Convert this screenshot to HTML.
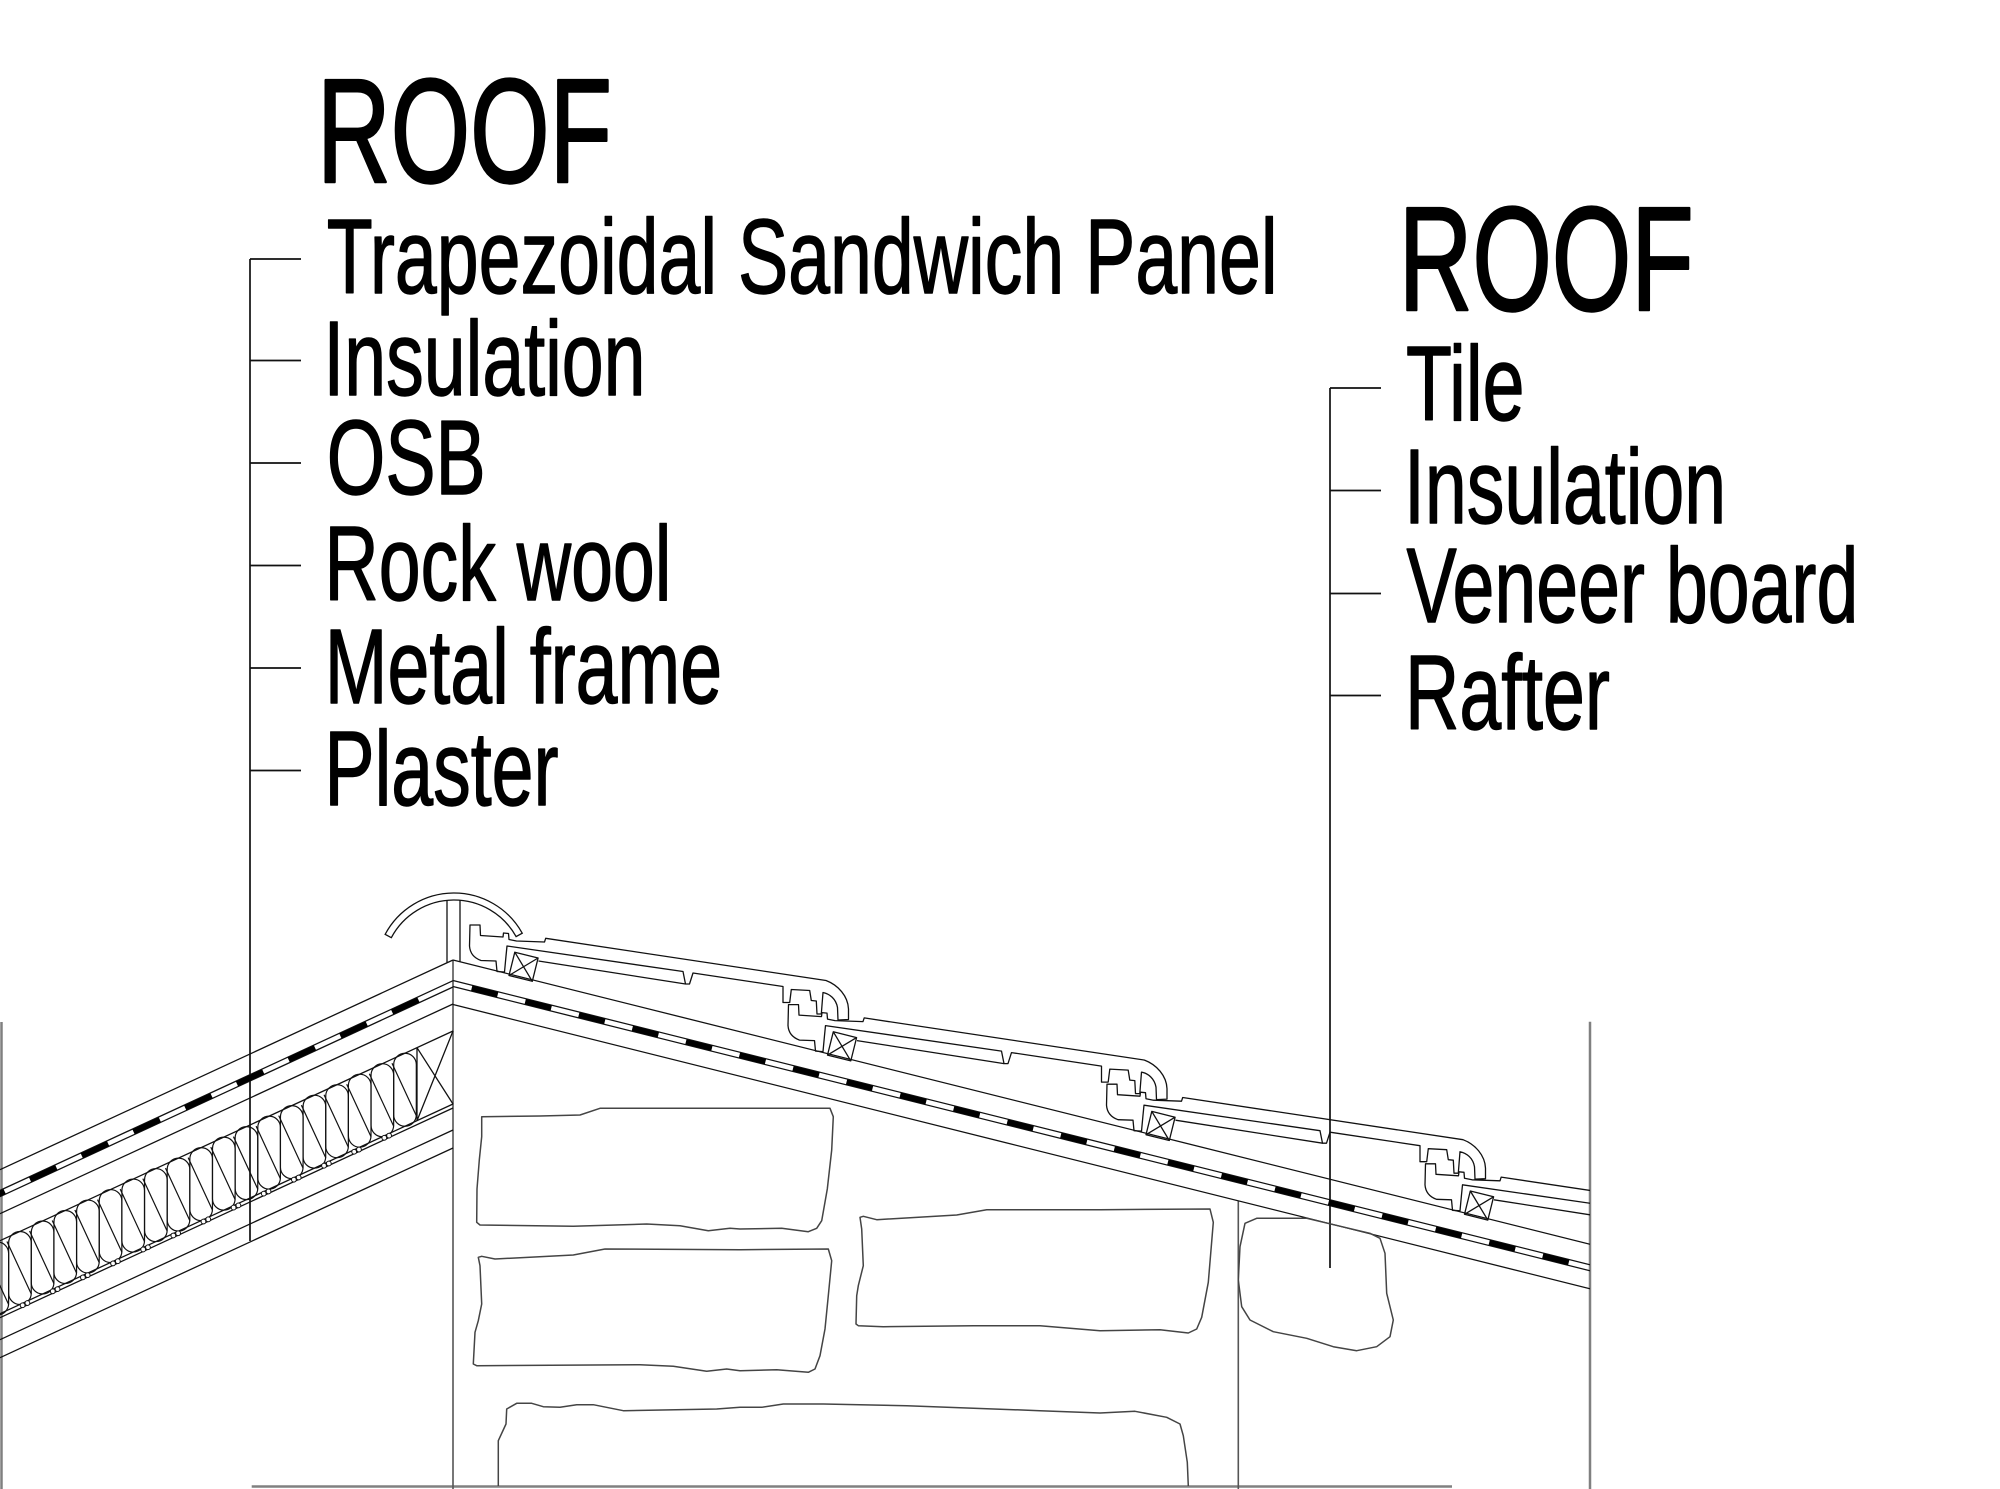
<!DOCTYPE html>
<html><head><meta charset="utf-8"><style>
html,body{margin:0;padding:0;background:#fff;}
svg{display:block;}
text{font-family:"Liberation Sans",Arial,sans-serif;fill:#000;stroke:#000;stroke-linejoin:round;}
.t{stroke-width:2.5;}
.i{stroke-width:1.4;}
</style></head><body>
<svg width="2000" height="1489" viewBox="0 0 2000 1489" xmlns="http://www.w3.org/2000/svg">
<defs>
<clipPath id="cl"><rect x="0" y="0" width="1590" height="1489"/></clipPath>
<g id="tile" fill="none" stroke="#111" stroke-width="1.3" stroke-linejoin="round">
<path d="M470,925 L480,925 L480.5,935.5 L503,937 L503.5,933 L508.5,933.5 L509,939.5 L516.5,941 L544.5,942 L545.7,938.3 L826,980.5 C838,985 848,996 848.5,1009 L848.5,1019.5 L838,1020 L837.5,1007.5 C836,999 830,994 823,992.5 L821.3,1014 L817,1014 L816.3,1001 L811.3,1000.5 L809.7,990.5 L791.3,989.5 L789.7,1002.5 L783,1002.5 L783,986.5 L693,973 L689.5,984 L685.5,984 L683,971.5 L507,946 L506,956 L504.5,972 L497,971.5 L496,961 L481,960.5 C474,958 470,953 469.5,946 Z"/>
<path d="M538.5,961 L685.5,984"/>
<polygon points="514.8,952.2 538.1,958 532.3,981.3 509,975.5"/>
<path d="M514.8,952.2 L532.3,981.3 M538.1,958 L509,975.5"/>
</g>
<g id="ins" fill="none" stroke="#111" stroke-width="1.2">
<rect x="393.7" y="1053.22" width="22.6" height="73" rx="11.3" ry="11.3"/>
<line x1="392" y1="1063.24" x2="416.4" y2="1115.9"/>
</g>
<g id="circ" fill="#fff" stroke="#111" stroke-width="1">
<circle cx="384.3" cy="1137.8" r="2.4"/>
<circle cx="389.1" cy="1135.6" r="2.4"/>
</g>
</defs>

<!-- Titles and labels -->
<text class="t" transform="translate(317,182) scale(0.69,1)" font-size="148">ROOF</text>
<text class="i" transform="translate(326.7,293) scale(0.71,1)" font-size="106">Trapezoidal Sandwich Panel</text>
<text class="i" transform="translate(323.4,395) scale(0.71,1)" font-size="106">Insulation</text>
<text class="i" transform="translate(326.8,494) scale(0.71,1)" font-size="106">OSB</text>
<text class="i" transform="translate(324.4,600) scale(0.71,1)" font-size="106">Rock wool</text>
<text class="i" transform="translate(324.8,703) scale(0.71,1)" font-size="106">Metal frame</text>
<text class="i" transform="translate(324.4,805) scale(0.71,1)" font-size="106">Plaster</text>

<text class="t" transform="translate(1398.7,310) scale(0.69,1)" font-size="148">ROOF</text>
<text class="i" transform="translate(1406,420) scale(0.71,1)" font-size="106">Tile</text>
<text class="i" transform="translate(1404,523) scale(0.71,1)" font-size="106">Insulation</text>
<text class="i" transform="translate(1406.5,622) scale(0.71,1)" font-size="106">Veneer board</text>
<text class="i" transform="translate(1405,729) scale(0.71,1)" font-size="106">Rafter</text>

<!-- Leaders -->
<path d="M250,259 V1241 M250,259 H301 M250,360.5 H301 M250,463 H301 M250,565.5 H301 M250,668 H301 M250,770.5 H301" stroke="#111" stroke-width="1.7" fill="none"/>
<path d="M1330,388 V1268 M1330,388 H1381 M1330,490.5 H1381 M1330,593.5 H1381 M1330,695.5 H1381" stroke="#111" stroke-width="1.7" fill="none"/>

<!-- Borders / ground -->
<g stroke="#808080" stroke-width="2.5" fill="none">
<path d="M1.5,1022 V1489"/>
<path d="M1590,1021.7 V1489"/>
<path d="M251.7,1486.5 H1452"/>
</g>
<g stroke="#555" stroke-width="1.6" fill="none">
<path d="M453,960 V1489"/>
<path d="M1238.3,1200.8 V1489"/>
</g>

<!-- Left roof layers -->
<g stroke="#111" stroke-width="1.3" fill="none">
<path d="M0,1169.7 L453,960"/>
<path d="M0,1190.4 L453,980.7"/>
<path d="M0,1196.7 L453,987"/>
<path d="M0,1213.7 L453,1004"/>
<path d="M0,1240.7 L453,1031"/>
<path d="M0,1313.7 L453,1104"/>
<path d="M0,1317.7 L453,1108"/>
<path d="M0,1339.7 L453,1130"/>
<path d="M0,1357.7 L453,1148"/>
<path d="M417,1047.7 V1120.7 M417,1047.7 L453,1104 M417,1120.7 L453,1031"/>
</g>
<path d="M-21.67,1203.62 L420,999.13" stroke="#000" stroke-width="5.5" stroke-dasharray="29 28" fill="none"/>

<!-- Insulation loops -->
<g>
<use href="#ins"/>
<use href="#ins" transform="translate(-22.65,10.487)"/>
<use href="#ins" transform="translate(-45.3,20.974)"/>
<use href="#ins" transform="translate(-67.95,31.461)"/>
<use href="#ins" transform="translate(-90.6,41.948)"/>
<use href="#ins" transform="translate(-113.25,52.435)"/>
<use href="#ins" transform="translate(-135.9,62.922)"/>
<use href="#ins" transform="translate(-158.55,73.409)"/>
<use href="#ins" transform="translate(-181.2,83.896)"/>
<use href="#ins" transform="translate(-203.85,94.383)"/>
<use href="#ins" transform="translate(-226.5,104.87)"/>
<use href="#ins" transform="translate(-249.15,115.357)"/>
<use href="#ins" transform="translate(-271.8,125.844)"/>
<use href="#ins" transform="translate(-294.45,136.331)"/>
<use href="#ins" transform="translate(-317.1,146.818)"/>
<use href="#ins" transform="translate(-339.75,157.305)"/>
<use href="#ins" transform="translate(-362.4,167.792)"/>
<use href="#ins" transform="translate(-385.05,178.279)"/>
<use href="#ins" transform="translate(-407.7,188.766)"/>
</g>
<g>
<use href="#circ"/>
<use href="#circ" transform="translate(-30.14,13.955)"/>
<use href="#circ" transform="translate(-60.28,27.91)"/>
<use href="#circ" transform="translate(-90.42,41.865)"/>
<use href="#circ" transform="translate(-120.56,55.82)"/>
<use href="#circ" transform="translate(-150.7,69.775)"/>
<use href="#circ" transform="translate(-180.84,83.73)"/>
<use href="#circ" transform="translate(-210.98,97.685)"/>
<use href="#circ" transform="translate(-241.12,111.64)"/>
<use href="#circ" transform="translate(-271.26,125.595)"/>
<use href="#circ" transform="translate(-301.4,139.55)"/>
<use href="#circ" transform="translate(-331.54,153.505)"/>
<use href="#circ" transform="translate(-361.68,167.46)"/>
</g>

<!-- Ridge cap -->
<g stroke="#111" stroke-width="1.3" fill="none">
<path d="M385.13,934.38 A78,78 0 0 1 522.22,933.19 L516.1,936.58 A71,71 0 0 0 391.31,937.67 Z"/>
<path d="M447,900.4 V962.8 M460,900.3 V961.75"/>
</g>

<!-- Right roof -->
<g clip-path="url(#cl)">
<g stroke="#111" stroke-width="1.3" fill="none">
<path d="M453,960 L1590,1244.25"/>
<path d="M453,980.5 L1590,1264.75"/>
<path d="M453,986.5 L1590,1270.75"/>
<path d="M453,1004.5 L1590,1288.75"/>
</g>
<path d="M471.7,988.18 L1590,1267.75" stroke="#000" stroke-width="5.5" stroke-dasharray="26.8 28.4" fill="none"/>
<use href="#tile"/>
<use href="#tile" transform="translate(318.5,79.6)"/>
<use href="#tile" transform="translate(637,159.2)"/>
<use href="#tile" transform="translate(955.5,238.8)"/>
</g>

<!-- Stones -->
<g stroke="#444" stroke-width="1.5" fill="none" stroke-linejoin="round">
<path d="M481.7,1116.7 L540,1116 L580,1115 L600,1108.3 L830,1108.3 L833.3,1116.7 L831.7,1150 L827.3,1189 L821.7,1220.7 L816.7,1228.3 L808.3,1231.7 L781.7,1228.3 L740,1229 L730,1228.3 L708.3,1230.7 L680,1225.7 L646.7,1224 L573.3,1226.3 L480,1225 L476.7,1222.3 L477,1189 L479.3,1160 L481.7,1136.7 Z"/>
<path d="M478.3,1257.3 L481.7,1256.3 L495,1259 L573.3,1255 L605,1249 L740,1249.7 L828.3,1249 L831.7,1260.7 L828.3,1295.7 L825,1329 L820,1355.7 L815,1369 L808.3,1372.3 L776.7,1369.7 L740,1370.7 L726.7,1369 L706.7,1371.3 L673.3,1366.3 L640,1364.7 L476.7,1365.7 L473.3,1364 L475,1332.3 L478.3,1320.7 L481.7,1304 L480,1265.7 Z"/>
<path d="M498.3,1486 L498.3,1440.7 L506,1424 L506.7,1409 L516.7,1403.3 L531.7,1403.3 L543.3,1406.7 L560,1407.3 L576.7,1404.7 L593.3,1404.7 L623.3,1410.7 L716.7,1409 L740,1407.3 L761.7,1407.3 L783.3,1404 L823.3,1404 L906.7,1405.7 L1040,1410.7 L1100,1413 L1135,1411.3 L1166.7,1417.3 L1180,1424 L1183.3,1435.7 L1187.3,1462.3 L1188.3,1486"/>
<path d="M860,1217.3 L863.3,1216.3 L876.7,1219.7 L956.7,1215 L986.7,1209.7 L1100,1209.7 L1210,1209 L1213.3,1222.3 L1208.3,1282.3 L1201.7,1317.3 L1196.7,1329 L1188.3,1333 L1160,1329.7 L1100,1330.7 L1040,1325.7 L973.3,1325.7 L883.3,1326.7 L858.3,1325.7 L856,1324 L856.7,1295.7 L858.3,1285.7 L863.3,1265.7 L861.7,1229 Z"/>
<path d="M1245,1223.3 L1256.7,1218.3 L1306.7,1218.3 L1370,1233.3 L1380,1238.3 L1385,1253.3 L1386.7,1293.3 L1393.3,1320 L1390,1336.7 L1376.7,1346.7 L1356.7,1350.7 L1333.3,1346.7 L1306.7,1338.3 L1273.3,1331.7 L1250,1320 L1241.7,1306.7 L1238.3,1280 L1240,1246.7 Z"/>
</g>
</svg>
</body></html>
